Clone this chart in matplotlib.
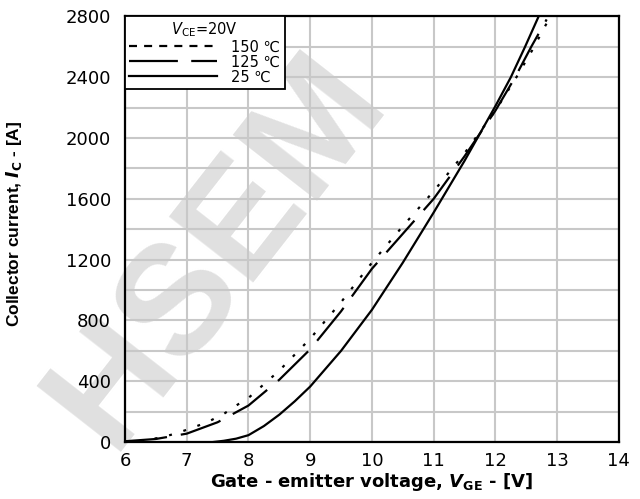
import matplotlib
matplotlib.use("Agg")
import matplotlib.pyplot as plt
from matplotlib.lines import Line2D

plt.rcParams['font.family'] = ['DejaVu Sans']
plt.rcParams['mathtext.fontset'] = 'custom'
plt.rcParams['mathtext.rm'] = 'DejaVu Sans'
plt.rcParams['mathtext.it'] = 'DejaVu Sans:italic'
plt.rcParams['mathtext.bf'] = 'DejaVu Sans:bold'
plt.rcParams['mathtext.bfit'] = 'DejaVu Sans:italic:bold'

# Data
vge_25 = [7.43, 7.6, 7.8, 8.0, 8.25, 8.5, 8.75, 9.0, 9.5, 10.0, 10.5, 11.0, 11.5, 12.0, 12.25, 12.48, 12.7]
ic_25 = [0, 8, 22, 45, 105, 180, 268, 365, 600, 870, 1180, 1510, 1850, 2210, 2400, 2600, 2800]

vge_125 = [6.0, 6.5, 7.0, 7.5, 8.0, 8.5, 9.0, 9.5, 10.0, 10.5, 11.0, 11.5, 12.0, 12.32, 12.58, 12.83]
ic_125 = [5, 20, 55, 130, 240, 410, 610, 860, 1140, 1370, 1600, 1880, 2180, 2400, 2600, 2780]

vge_150 = [6.0, 6.3, 6.57, 6.84, 7.08, 7.33, 7.6, 7.84, 8.0, 8.5, 9.0, 9.5, 10.0, 10.5, 11.0, 11.5, 12.0, 12.34, 12.6, 12.85]
ic_150 = [3, 13, 28, 58, 92, 130, 185, 250, 290, 470, 680, 920, 1180, 1420, 1650, 1900, 2180, 2400, 2580, 2770]

labels = ['150 ℃', '125 ℃', '25 ℃']
x_ticks = [6, 7, 8, 9, 10, 11, 12, 13, 14]
y_ticks = [0, 400, 800, 1200, 1600, 2000, 2400, 2800]
y_minor = [200, 600, 1000, 1400, 1800, 2200, 2600]

LW = 1.6
fig = plt.figure(figsize=(6.4, 4.99), dpi=100)
ax = fig.add_axes([0.1953, 0.1142, 0.7717, 0.8529])

# watermark (behind the axes)
fig.text(0.34, 0.50, 'HSEM', rotation=52, fontsize=112, fontweight='bold',
         family='Liberation Sans', color='#e0e0e0', ha='center', va='center', zorder=-5)
ax.patch.set_alpha(0)

ax.plot(vge_150, ic_150, color='black', lw=LW, ls=(0, (1.3, 5.4)), label=labels[0])
ax.plot(vge_125, ic_125, color='black', lw=LW, ls=(0, (19, 6.3)), label=labels[1])
ax.plot(vge_25, ic_25, color='black', lw=LW, ls='-', label=labels[2])

ax.set_xlim(6, 14)
ax.set_ylim(0, 2800)
ax.set_xticks(x_ticks)
ax.set_yticks(y_ticks)
ax.set_yticks(y_minor, minor=True)
ax.grid(True, which='both', color='#c8c8c8', lw=1.5)
ax.set_axisbelow(True)
ax.tick_params(which='both', length=0, labelsize=13)
ax.tick_params(axis='y', pad=10)
ax.tick_params(axis='x', pad=7)
for s in ax.spines.values():
    s.set_linewidth(1.6)
    s.set_color('black')

ax.set_xlabel(r'Gate - emitter voltage, $\mathbfit{V}_{\mathbf{GE}}$ - [V]',
              fontsize=13, fontweight='bold', labelpad=1)
ax.set_ylabel(r'Collector current, $\mathbfit{I}_{\mathbf{C}}$ - [A]',
              fontsize=12.5, fontweight='bold', family='Liberation Sans')
ax.yaxis.set_label_coords(-0.205, 0.512)

handles = [
    Line2D([], [], color='black', lw=LW, ls=(0, (3.6, 3.2))),
    Line2D([], [], color='black', lw=LW, ls=(0, (22, 6))),
    Line2D([], [], color='black', lw=LW, ls='-'),
]
leg = ax.legend(handles, labels, loc='upper left', borderaxespad=0, fontsize=10.5,
                title=r'$\mathit{V}_{\mathrm{CE}}$=20V', title_fontsize=10.5,
                frameon=True, fancybox=False, handlelength=6.0, handletextpad=1.0,
                labelspacing=0.0, borderpad=0.3)
leg.get_frame().set_edgecolor('black')
leg.get_frame().set_linewidth(1.3)
leg.get_frame().set_alpha(1)

fig.savefig('out.png', dpi=100)
